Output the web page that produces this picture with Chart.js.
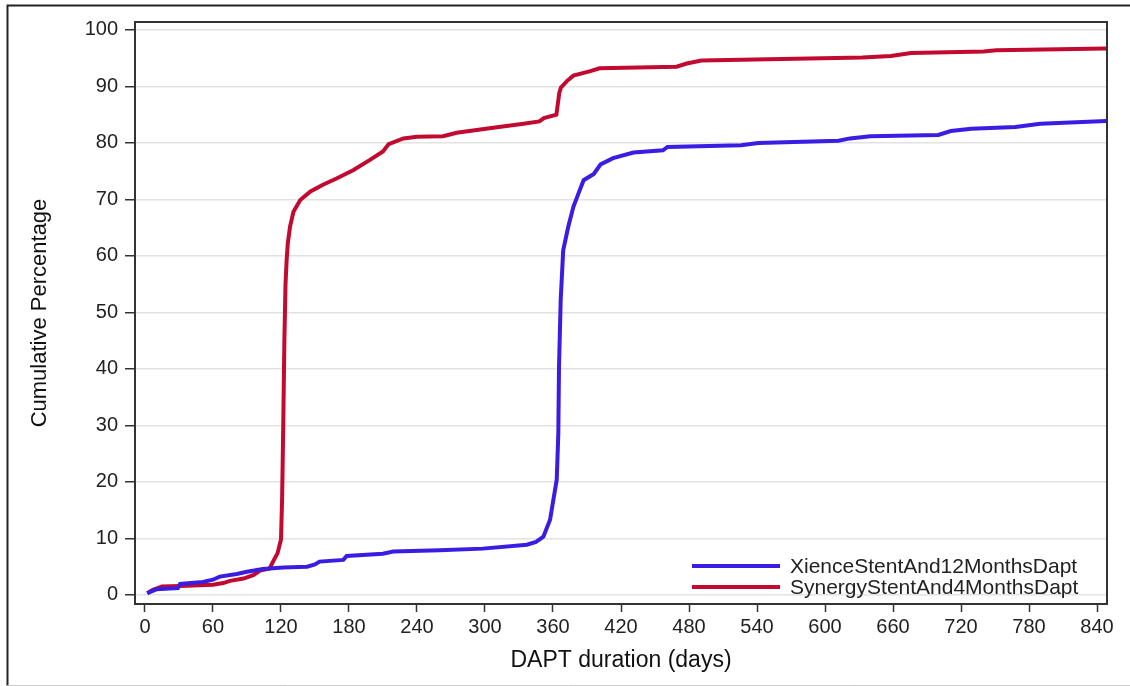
<!DOCTYPE html>
<html lang="en">
<head>
    <meta charset="UTF-8">
    <title>Cumulative DAPT duration</title>
    <script src="https://cdn.jsdelivr.net/npm/chart.js"></script>
    <style>
        html, body { margin: 0; padding: 0; background: #fff; }
        #wrap { width: 1130px; height: 686px; position: relative; }
    </style>
</head>
<body>
    <div id="wrap"><canvas id="daptChart"></canvas></div>

    <script>
        // values (days, cumulative %)
        const xienceDays = [2, 10, 29, 31, 51, 60, 66, 81, 90, 104, 122, 143, 150, 154, 175, 178, 210, 219, 260, 298, 337, 345, 351.5, 357.4, 360.3, 363.3, 364.7, 365.3, 366.8, 369, 373.5, 378, 382, 387, 396, 402, 413, 431, 457, 461, 526, 541, 612, 622, 640, 700, 711, 729, 768, 790, 848];
        const xiencePct = [0.3, 1.0, 1.2, 1.95, 2.3, 2.7, 3.25, 3.7, 4.1, 4.6, 4.85, 5.0, 5.4, 5.9, 6.2, 6.9, 7.3, 7.7, 7.9, 8.2, 8.9, 9.4, 10.3, 13.3, 16.8, 20.4, 28.6, 40.4, 52.2, 61, 65.2, 68.7, 70.8, 73.4, 74.5, 76.2, 77.3, 78.3, 78.7, 79.3, 79.6, 80.0, 80.4, 80.8, 81.2, 81.4, 82.1, 82.5, 82.8, 83.4, 83.9];

        const synergyDays = [2, 7, 15, 31, 60, 69, 75, 87, 96, 101.5, 110, 113, 117, 120, 121, 122, 123, 124, 125, 126, 128, 131, 137, 146, 157, 169, 184, 198.5, 210, 215, 228, 240, 263, 275, 304, 334, 348, 352, 363, 365.5, 367, 372, 378, 393, 401, 469, 478, 491, 633, 658, 676, 740, 751, 848];
        const synergyPct = [0.3, 0.9, 1.5, 1.6, 1.8, 2.1, 2.5, 2.9, 3.55, 4.3, 4.7, 5.9, 7.4, 9.8, 17, 30, 45, 55, 59.3, 62.2, 65.2, 67.8, 69.9, 71.4, 72.6, 73.7, 75.2, 77.0, 78.5, 79.8, 80.8, 81.1, 81.2, 81.8, 82.6, 83.4, 83.8, 84.4, 85.0, 88.8, 89.8, 90.9, 91.9, 92.7, 93.2, 93.5, 94.05, 94.6, 95.1, 95.4, 95.9, 96.2, 96.4, 96.7];

        const seriesLabels = ['XienceStentAnd12MonthsDapt', 'SynergyStentAnd4MonthsDapt'];
        const xTicks = [0, 60, 120, 180, 240, 300, 360, 420, 480, 540, 600, 660, 720, 780, 840];
        const yTicks = [0, 10, 20, 30, 40, 50, 60, 70, 80, 90, 100];

        function toPoints(days, pct) {
            return days.map((d, i) => ({ x: d, y: pct[i] }));
        }

        Chart.defaults.font.family = "'Liberation Sans', Arial, sans-serif";
        Chart.defaults.color = '#222';

        // box round the plot, outer frame, and the legend inside the plot
        const framePlugin = {
            id: 'frame',
            afterDraw(chart) {
                const ctx = chart.ctx;
                const a = chart.chartArea;
                ctx.save();
                ctx.strokeStyle = '#333';
                ctx.lineWidth = 2;
                ctx.strokeRect(a.left, a.top, a.right - a.left, a.bottom - a.top);

                // outer frame
                ctx.strokeStyle = '#222';
                ctx.lineWidth = 2;
                ctx.beginPath();
                ctx.moveTo(7.5, 686);
                ctx.lineTo(7.5, 5.5);
                ctx.lineTo(1130, 5.5);
                ctx.stroke();
                ctx.strokeStyle = '#ccc';
                ctx.lineWidth = 1;
                ctx.beginPath();
                ctx.moveTo(7, 685.5);
                ctx.lineTo(1130, 685.5);
                ctx.stroke();

                // legend
                ctx.font = "21px 'Liberation Sans', Arial, sans-serif";
                ctx.textBaseline = 'middle';
                ctx.fillStyle = '#222';
                const x0 = a.right - 415;
                chart.data.datasets.forEach((ds, i) => {
                    const y = a.bottom - 38 + i * 21;
                    ctx.strokeStyle = ds.borderColor;
                    ctx.lineWidth = 4;
                    ctx.beginPath();
                    ctx.moveTo(x0, y);
                    ctx.lineTo(x0 + 88, y);
                    ctx.stroke();
                    ctx.fillText(ds.label, x0 + 98, y + 1);
                });
                ctx.restore();
            }
        };

        const ctx = document.getElementById('daptChart').getContext('2d');
        new Chart(ctx, {
            type: 'line',
            data: {
                datasets: [{
                    label: seriesLabels[0],
                    data: toPoints(xienceDays, xiencePct),
                    borderColor: '#3a1de3',
                    borderWidth: 4,
                    pointRadius: 0,
                    tension: 0
                }, {
                    label: seriesLabels[1],
                    data: toPoints(synergyDays, synergyPct),
                    borderColor: '#c20a30',
                    borderWidth: 4,
                    pointRadius: 0,
                    tension: 0
                }]
            },
            options: {
                responsive: true,
                maintainAspectRatio: false,
                animation: false,
                layout: { padding: { top: 22, right: 23, left: 0, bottom: 0 } },
                plugins: {
                    legend: { display: false },
                    tooltip: { enabled: false }
                },
                scales: {
                    x: {
                        type: 'linear',
                        min: -8.8,
                        max: 848.8,
                        afterBuildTicks: s => { s.ticks = xTicks.map(v => ({ value: v })); },
                        afterFit: s => { s.height = 82; s.paddingLeft = 0; s.paddingRight = 0; },
                        border: { display: false },
                        grid: { drawOnChartArea: false, tickLength: 8, tickColor: '#333', tickWidth: 1.5 },
                        ticks: { font: { size: 20 }, padding: 3, maxRotation: 0, autoSkip: false, color: '#222' },
                        title: { display: true, text: 'DAPT duration (days)', font: { size: 23 }, color: '#111', padding: { top: 0, bottom: 12 } }
                    },
                    y: {
                        min: -1.6,
                        max: 101.4,
                        afterBuildTicks: s => { s.ticks = yTicks.map(v => ({ value: v })); },
                        afterFit: s => { s.width = 135; s.paddingTop = 0; s.paddingBottom = 0; },
                        border: { display: false },
                        grid: { color: '#e2e2e2', lineWidth: 1.5, tickLength: 10, tickColor: '#333', tickWidth: 1.5 },
                        ticks: { font: { size: 20 }, padding: 7, color: '#222' },
                        title: { display: true, text: 'Cumulative Percentage', font: { size: 22 }, color: '#111', padding: { top: 27, bottom: 0 } }
                    }
                }
            },
            plugins: [framePlugin]
        });
    </script>
</body>
</html>
